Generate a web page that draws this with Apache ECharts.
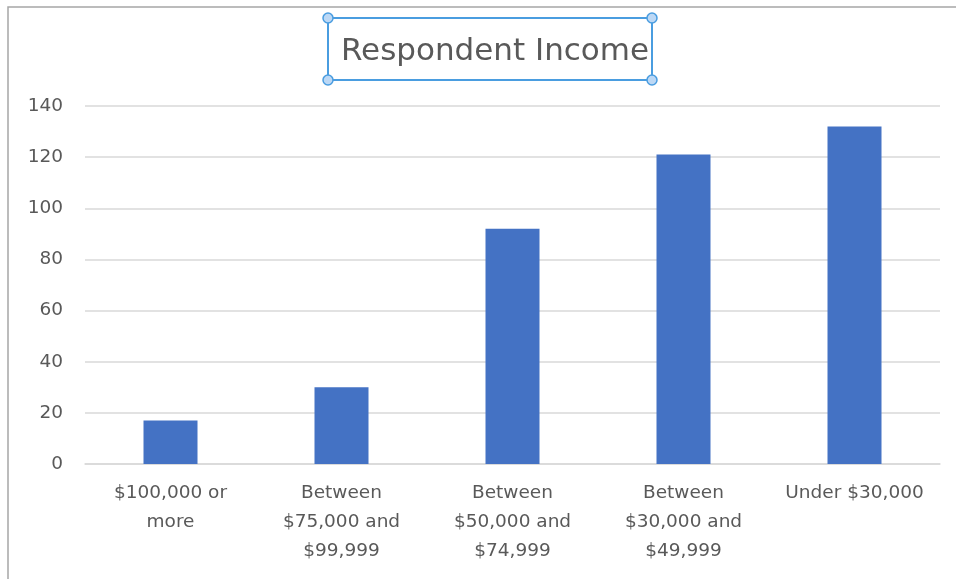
<!DOCTYPE html>
<html>
<head>
<meta charset="utf-8">
<script src="https://cdn.jsdelivr.net/npm/echarts@6/dist/echarts.min.js"></script>
<style>
  html, body { margin: 0; padding: 0; background: #fff; }
  #chart { width: 956px; height: 579px; }
</style>
</head>
<body>
<div id="chart"></div>
<script>
const categories = [
  "$100,000 or\nmore",
  "Between\n$75,000 and\n$99,999",
  "Between\n$50,000 and\n$74,999",
  "Between\n$30,000 and\n$49,999",
  "Under $30,000",
];
const respondents = [17, 30, 92, 121, 132];
const yTicks = { min: 0, max: 140, interval: 20 };

const FONT = "'DejaVu Sans', 'Noto Sans', sans-serif";
const TEXT = "#595959";

// Excel-style selection handles around the title box
function handle(x, y) {
  return {
    type: "circle",
    shape: { cx: x, cy: y, r: 5 },
    style: { fill: "#bcd8f5", stroke: "#4a9de0", lineWidth: 1.5 },
  };
}

const chart = echarts.init(document.getElementById("chart"));
chart.setOption({
  animation: false,
  title: {
    text: "Respondent Income",
    left: 490,
    top: 31,
    textAlign: "center",
    textStyle: { fontFamily: FONT, fontSize: 31, fontWeight: "normal", color: TEXT },
  },
  grid: { left: 85, right: 16, top: 106, bottom: 115 },
  xAxis: {
    type: "category",
    data: categories,
    axisLine: { lineStyle: { color: "#d9d9d9", width: 1.5 } },
    axisTick: { show: false },
    axisLabel: {
      interval: 0,
      margin: 15,
      fontFamily: FONT,
      fontSize: 18.5,
      lineHeight: 29,
      color: TEXT,
      align: "center",
    },
  },
  yAxis: {
    type: "value",
    ...yTicks,
    axisLine: { show: false },
    axisTick: { show: false },
    axisLabel: { margin: 22, fontFamily: FONT, fontSize: 18.5, color: TEXT },
    splitLine: { lineStyle: { color: "#d9d9d9", width: 1.5 } },
  },
  series: [{
    type: "bar",
    data: respondents,
    barWidth: 54,
    itemStyle: { color: "#4472c4" },
  }],
  graphic: [
    {
      type: "rect",
      shape: { x: 8, y: 7, width: 960, height: 600 },
      style: { fill: null, stroke: "#a6a6a6", lineWidth: 1.5 },
      silent: true,
    },
    {
      type: "group",
      silent: true,
      children: [
        {
          type: "rect",
          shape: { x: 328, y: 18, width: 324, height: 62 },
          style: { fill: null, stroke: "#4a9de0", lineWidth: 2 },
        },
        handle(328, 18), handle(652, 18), handle(328, 80), handle(652, 80),
      ],
    },
  ],
});
window.addEventListener("resize", () => chart.resize());
</script>
</body>
</html>
